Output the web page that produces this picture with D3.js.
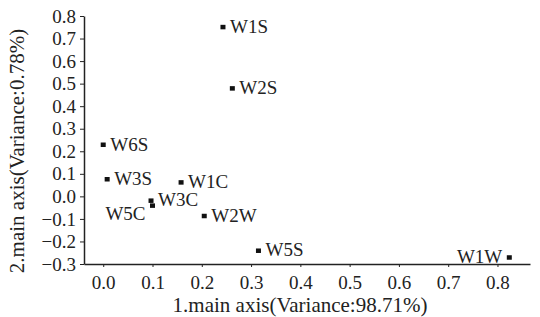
<!DOCTYPE html>
<html>
<head>
<meta charset="utf-8">
<script src="https://cdn.jsdelivr.net/npm/d3@7"></script>
<style>
  body { margin: 0; background: #fff; }
  text { font-family: "Liberation Serif", "Times New Roman", serif; fill: #222; }
  .axis path, .axis line { stroke: #222; }
</style>
</head>
<body>
<svg id="chart" width="540" height="317"></svg>
<script>
var names = ['W1S', 'W2S', 'W6S', 'W3S', 'W1C', 'W3C', 'W5C', 'W2W', 'W5S', 'W1W']
var axis1 = [0.243, 0.262, 0.000, 0.008, 0.158, 0.097, 0.100, 0.205, 0.315, 0.824]
var axis2 = [0.752, 0.480, 0.230, 0.077, 0.063, -0.018, -0.040, -0.086, -0.240, -0.270]
var labelSide = ['right', 'right', 'right', 'right', 'right', 'right', 'below', 'right', 'right', 'left']
var xTicks = [0.0, 0.1, 0.2, 0.3, 0.4, 0.5, 0.6, 0.7, 0.8]
var yTicks = [-0.3, -0.2, -0.1, 0.0, 0.1, 0.2, 0.3, 0.4, 0.5, 0.6, 0.7, 0.8]

var svg = d3.select('#chart')
var plotLeft = 84, plotRight = 530, plotTop = 16, plotBottom = 264
var fontSize = 19

var x = d3.scaleLinear().domain([-0.039, 0.866]).range([plotLeft, plotRight])
var y = d3.scaleLinear().domain([-0.3, 0.8]).range([plotBottom, plotTop])

// axes
svg.append('g')
  .attr('class', 'axis')
  .attr('transform', 'translate(0,' + plotBottom + ')')
  .call(d3.axisBottom(x).tickValues(xTicks).tickSize(3).tickSizeOuter(0).tickFormat(d3.format('.1f')))
  .call(function(g) {
    g.select('.domain').attr('stroke-width', 1.5)
    g.selectAll('text').attr('font-size', fontSize).attr('y', 10).attr('dy', '0.8em')
  })

svg.append('g')
  .attr('class', 'axis')
  .attr('transform', 'translate(' + plotLeft + ',0)')
  .call(d3.axisLeft(y).tickValues(yTicks).tickSize(4).tickSizeOuter(0).tickFormat(d3.format('.1f')))
  .call(function(g) {
    g.select('.domain').attr('stroke-width', 1.5)
    g.selectAll('text').attr('font-size', fontSize).attr('x', -8)
  })

// axis titles
svg.append('text')
  .attr('x', 300)
  .attr('y', 312)
  .attr('text-anchor', 'middle')
  .attr('font-size', 21)
  .text('1.main axis(Variance:98.71%)')

svg.append('text')
  .attr('transform', 'translate(24,151) rotate(-90)')
  .attr('text-anchor', 'middle')
  .attr('font-size', 21)
  .text('2.main axis(Variance:0.78%)')

// points
var pts = names.map(function(n, i) {
  return { name: n, x: axis1[i], y: axis2[i], side: labelSide[i] }
})

var g = svg.selectAll('g.pt').data(pts).enter().append('g')
  .attr('class', 'pt')
  .attr('transform', function(d) { return 'translate(' + x(d.x) + ',' + y(d.y) + ')' })

g.append('rect')
  .attr('x', -2.5).attr('y', -2).attr('width', 5).attr('height', 4.5)
  .attr('fill', '#111')

g.append('text')
  .attr('font-size', fontSize)
  .attr('text-anchor', function(d) { return d.side === 'right' ? 'start' : 'end' })
  .attr('x', function(d) { return d.side === 'right' ? 7 : -7 })
  .attr('y', function(d) { return d.side === 'below' ? 15 : 6 })
  .text(function(d) { return d.name })
</script>
</body>
</html>
